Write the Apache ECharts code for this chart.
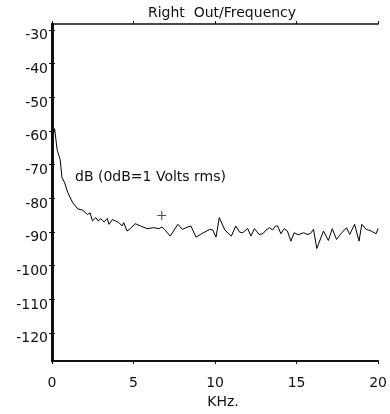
<!DOCTYPE html>
<html>
<head>
<meta charset="utf-8">
<script src="https://cdn.jsdelivr.net/npm/echarts@6/dist/echarts.min.js"></script>
<style>html,body{margin:0;padding:0;background:#fff}#c{width:390px;height:414px}</style>
</head>
<body>
<div id="c"></div>
<script>
var titleText = 'Right  Out/Frequency';
var xName = 'KHz.';
var noteText = 'dB (0dB=1 Volts rms)';
var xTicks = [0, 5, 10, 15, 20];
var yTicks = [-120, -110, -100, -90, -80, -70, -60, -50, -40, -30];
var freqs = [0.05,0.16,0.32,0.5,0.61,0.77,0.97,1.27,1.58,1.88,2.18,2.34,2.48,2.69,2.83,2.99,3.19,3.39,3.5,3.7,3.9,4.1,4.3,4.4,4.6,4.8,5.1,5.43,5.84,6.24,6.55,6.75,6.9,7.25,7.72,8.0,8.32,8.52,8.83,9.17,9.68,9.86,10.06,10.26,10.6,11.0,11.27,11.5,11.7,12.0,12.2,12.42,12.7,12.93,13.13,13.33,13.53,13.7,13.84,14.04,14.24,14.44,14.65,14.85,15.1,15.44,15.64,15.84,16.04,16.24,16.65,16.95,17.19,17.45,17.72,18.06,18.26,18.56,18.83,19.0,19.27,19.58,19.88,20.0];
var dbs = [-61,-59.3,-65.7,-68.4,-73.8,-75.3,-78.3,-81.3,-83.1,-83.5,-84.8,-84.3,-86.7,-85.7,-86.7,-86,-87,-86,-87.7,-86.3,-86.7,-87.2,-88.2,-87.2,-89.7,-89,-87.5,-88.2,-89,-88.7,-89,-88.5,-89.2,-91.2,-87.7,-89.2,-88.5,-88.2,-91.5,-90.5,-89.2,-89.4,-91.5,-85.7,-89.4,-91.2,-88.2,-90,-90.2,-88.9,-91.2,-89,-90.7,-90.5,-89.4,-88.7,-89.4,-88.2,-88.2,-90.5,-89,-89.7,-92.7,-90.2,-90.8,-90.2,-90.7,-90.5,-89.2,-94.9,-89.7,-92.5,-89,-92.2,-90.5,-88.7,-90.7,-87.7,-92.7,-87.7,-89.2,-89.7,-90.5,-88.9];
var cursorFreq = [6.73];
var cursorDb = [-85.1];

var FONT = 'DejaVu Sans';
var INK = '#111';
var lineData = freqs.map(function (f, i) { return [f, dbs[i]]; });
var cursorData = cursorFreq.map(function (f, i) { return [f, cursorDb[i]]; });

var chart = echarts.init(document.getElementById('c'), null, {renderer: 'canvas'});
chart.setOption({
  animation: false,
  backgroundColor: '#fff',
  grid: {left: 52, right: 8, top: 24, bottom: 50, containLabel: false},
  graphic: [
    {type: 'text', x: 222, y: 13, style: {text: titleText, font: '14px "DejaVu Sans"', fill: INK, align: 'center', verticalAlign: 'middle'}},
    {type: 'text', x: 75, y: 177, style: {text: noteText, font: '14px "DejaVu Sans"', fill: INK, align: 'left', verticalAlign: 'middle'}}
  ],
  xAxis: [
    {type: 'value', position: 'bottom', min: xTicks[0], max: xTicks[xTicks.length - 1], interval: 5,
     name: xName, nameLocation: 'middle', nameGap: 34,
     nameTextStyle: {fontFamily: FONT, fontSize: 14, color: INK, padding: [0, 0, 0, 16]},
     axisLine: {show: true, lineStyle: {color: INK, width: 2}},
     axisTick: {show: true, inside: false, length: 3, lineStyle: {color: INK, width: 1}},
     axisLabel: {show: true, margin: 15, fontFamily: FONT, fontSize: 14, color: INK, showMinLabel: true, showMaxLabel: true},
     splitLine: {show: false}},
    {type: 'value', position: 'top', min: xTicks[0], max: xTicks[xTicks.length - 1], interval: 5,
     axisLine: {show: true, lineStyle: {color: INK, width: 1.5}},
     axisTick: {show: true, inside: false, length: 3, lineStyle: {color: INK, width: 1}},
     axisLabel: {show: false}, splitLine: {show: false}}
  ],
  yAxis: [
    {type: 'value', position: 'left', min: -128.3, max: -28.2,
     axisLine: {show: true, lineStyle: {color: INK, width: 3}},
     axisTick: {show: true, inside: false, length: 3, customValues: yTicks, lineStyle: {color: INK, width: 1}},
     axisLabel: {show: true, margin: 4, customValues: yTicks, fontFamily: FONT, fontSize: 14, color: INK, verticalAlign: 'top', lineHeight: 11},
     splitLine: {show: false}},
    {type: 'value', position: 'right', min: -128.3, max: -28.2,
     axisLine: {show: true, lineStyle: {color: INK, width: 1.5}},
     axisTick: {show: true, inside: false, length: 3, customValues: yTicks, lineStyle: {color: INK, width: 1}},
     axisLabel: {show: false}, splitLine: {show: false}}
  ],
  series: [
    {type: 'line', xAxisIndex: 0, yAxisIndex: 0, data: lineData, showSymbol: false, symbol: 'none',
     lineStyle: {color: '#000', width: 1}, silent: true, clip: true},
    {type: 'scatter', xAxisIndex: 0, yAxisIndex: 0, data: cursorData,
     symbol: 'path://M0,3.5H8V4.5H0Z M3.5,0H4.5V8H3.5Z', symbolSize: [9, 9],
     itemStyle: {color: '#222'}, silent: true}
  ]
});
</script>
</body>
</html>
